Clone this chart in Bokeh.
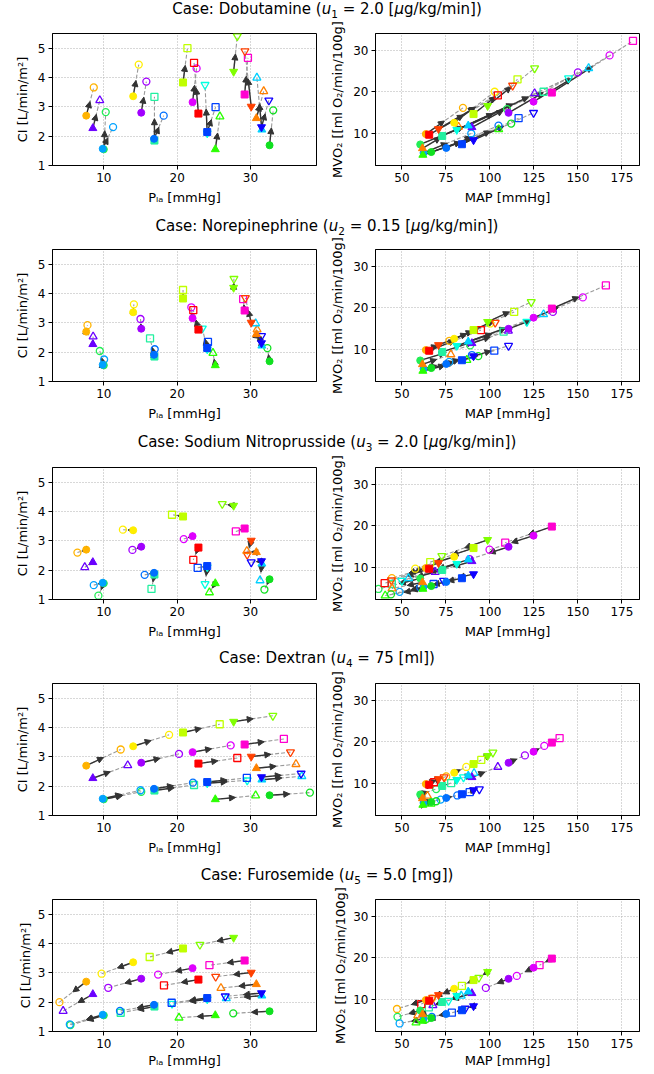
from bokeh.plotting import figure
from bokeh.layouts import column, row
from bokeh.models import Div, Range1d, Arrow, NormalHead, ColumnDataSource
from bokeh.embed import file_html
from bokeh.resources import INLINE

# ---------------- data ----------------
MARKERS = ["circle", "triangle", "circle", "circle", "circle", "circle", "circle",
           "square", "square", "circle", "square", "square", "inverted_triangle",
           "triangle", "inverted_triangle", "square", "inverted_triangle", "triangle",
           "inverted_triangle", "triangle", "circle"]
COLORS = ["#ffb300", "#6a00ff", "#00a2ff", "#22ee55", "#ffee00", "#a100ff", "#0070ff",
          "#22f0a0", "#c0ff00", "#df00ff", "#ff0000", "#0040ff", "#00ffe0",
          "#2aff00", "#80ff00", "#ff00d0", "#ff4000", "#ff8000",
          "#1000ff", "#00d0ff", "#10e020"]

# initial (baseline) state of every virtual patient
PLA0 = [7.6, 8.5, 9.85, 10.0, 14.0, 15.1, 16.85, 16.9, 20.8, 22.1, 22.9, 24.1, 24.1,
        25.2, 27.7, 29.2, 30.1, 30.8, 31.5, 31.55, 32.6]
CI0 = [2.70, 2.27, 1.57, 1.55, 3.36, 2.80, 1.91, 1.85, 3.83, 3.16, 2.77, 2.14, 2.10,
       1.55, 4.20, 3.42, 3.01, 2.61, 2.31, 2.22, 1.69]
MAP0 = [63.6, 89.8, 62.3, 60.4, 79.7, 110.6, 75.2, 72.9, 90.7, 124.8, 65.5, 84.1, 81.2,
        61.9, 98.7, 135.2, 70.8, 61.7, 90.7, 87.7, 66.7]
MVO0 = [9.76, 11.4, 5.2, 7.25, 12.5, 14.9, 6.4, 9.3, 14.6, 17.6, 9.6, 7.3, 10.8,
        4.7, 16.6, 19.8, 11.0, 6.3, 8.3, 11.8, 5.4]

# Dobutamine
DOB_PLA = [8.63, 9.45, 11.26, 10.26, 14.76, 15.8, 18.16, 16.9, 21.4, 22.65, 22.3, 25.24,
           23.8, 25.83, 28.2, 29.65, 29.24, 31.8, 32.5, 30.87, 33.1]
DOB_CI = [3.66, 3.22, 2.31, 2.82, 4.44, 3.86, 2.70, 3.34, 5.0, 4.31, 4.5, 2.99, 3.75,
          2.67, 5.41, 4.67, 4.9, 3.53, 3.22, 3.99, 2.88]
DOB_MAP = [84.7, 125.4, 89.4, 109.7, 102.7, 150.0, 104.9, 130.5, 115.7, 168.0, 104.5,
           116.3, 144.7, 105.0, 125.4, 181.3, 112.9, 82.2, 124.8, 156.1, 112.1]
DOB_MVO = [16.1, 19.6, 9.9, 15.8, 20.0, 24.7, 11.8, 20.0, 23.0, 28.8, 19.1, 13.6, 23.3,
           10.9, 25.7, 32.3, 21.5, 11.5, 14.9, 25.7, 12.3]

# Norepinephrine
NE_PLA = [7.77, 8.54, 10.04, 9.45, 14.1, 15.0, 16.94, 16.3, 20.8, 21.93, 22.2, 24.2,
          23.43, 24.88, 27.74, 29.0, 29.3, 30.9, 31.5, 30.7, 32.3]
NE_CI = [2.92, 2.53, 1.75, 2.04, 3.63, 3.13, 2.10, 2.47, 4.12, 3.53, 3.43, 2.35, 2.81,
         1.97, 4.5, 3.81, 3.85, 2.77, 2.55, 2.98, 2.14]
NE_MAP = [77.0, 110.5, 76.9, 88.8, 100.2, 135.8, 89.8, 107.8, 113.8, 152.8, 94.9, 102.5,
          121.0, 86.9, 123.5, 165.9, 103.0, 77.8, 110.6, 130.5, 93.4]
NE_MVO = [12.0, 14.4, 6.9, 10.9, 16.2, 19.0, 8.55, 14.2, 19.0, 22.5, 14.6, 9.6, 16.6,
          7.35, 21.4, 25.4, 16.4, 8.7, 10.8, 18.4, 8.3]

# Sodium Nitroprusside
SNP_PLA = [6.4, 7.4, 8.63, 9.26, 12.6, 13.9, 15.57, 16.5, 19.3, 20.9, 22.2, 22.8, 23.8,
           24.4, 26.15, 28.0, 29.55, 29.5, 30.1, 31.3, 31.9]
SNP_CI = [2.6, 2.1, 1.49, 1.13, 3.38, 2.69, 1.84, 1.36, 3.89, 3.06, 2.35, 2.08, 1.53,
          1.24, 4.26, 3.32, 2.53, 2.65, 2.27, 1.65, 1.34]
SNP_MAP = [44.3, 68.9, 48.7, 36.7, 57.6, 88.5, 60.4, 44.3, 66.1, 99.8, 40.2, 68.0, 50.0,
           40.5, 72.7, 108.7, 44.0, 44.4, 73.7, 53.8, 43.8]
SNP_MVO = [7.3, 8.8, 4.0, 4.7, 9.6, 11.9, 5.1, 5.9, 11.2, 14.2, 6.1, 5.9, 6.7, 3.1,
           12.7, 15.9, 6.8, 4.8, 6.7, 7.3, 3.4]

# Dextran
DEX_PLA = [12.3, 13.26, 15.0, 15.1, 18.9, 20.25, 22.15, 22.3, 25.8, 27.3, 28.2, 29.5,
           29.55, 30.7, 33.05, 34.55, 35.45, 36.2, 36.9, 37.0, 38.1]
DEX_CI = [3.25, 2.71, 1.86, 1.81, 3.75, 3.1, 2.12, 2.04, 4.11, 3.39, 2.96, 2.28, 2.2,
          1.68, 4.4, 3.61, 3.16, 2.75, 2.43, 2.34, 1.78]
DEX_MAP = [75.2, 104.5, 72.0, 69.5, 86.6, 119.9, 81.5, 78.0, 95.1, 130.9, 68.2, 88.5,
           85.0, 66.5, 101.7, 139.6, 74.0, 64.5, 94.0, 91.0, 69.5]
DEX_MVO = [11.6, 13.9, 6.0, 8.55, 13.9, 16.7, 7.0, 10.0, 15.6, 19.0, 10.2, 7.8, 11.4,
           5.0, 17.4, 20.9, 11.4, 6.9, 8.5, 12.4, 5.6]

# Furosemide
FUR_PLA = [3.95, 4.45, 5.36, 5.45, 9.7, 10.6, 12.2, 12.3, 16.25, 17.4, 18.2, 19.25,
           19.3, 20.25, 23.1, 24.4, 25.25, 25.97, 26.56, 26.7, 27.65]
FUR_CI = [2.0, 1.7, 1.24, 1.22, 2.97, 2.49, 1.70, 1.64, 3.54, 2.94, 2.57, 1.98, 1.95,
          1.47, 3.96, 3.26, 2.87, 2.48, 2.2, 2.13, 1.62]
FUR_MAP = [47.2, 67.6, 48.7, 47.5, 67.0, 97.7, 67.0, 65.3, 84.1, 115.3, 61.0, 78.4,
           76.5, 58.0, 93.75, 128.2, 67.5, 59.0, 86.0, 83.7, 64.0]
FUR_MVO = [7.6, 8.5, 4.1, 5.7, 10.1, 12.7, 5.7, 8.0, 13.2, 15.6, 8.8, 6.7, 9.6, 4.3,
           15.2, 18.2, 10.3, 6.0, 7.7, 10.8, 5.2]

CASE_TITLES = [
    "Case: Dobutamine (<i>u</i><sub>1</sub> = 2.0 [<i>&mu;</i>g/kg/min])",
    "Case: Norepinephrine (<i>u</i><sub>2</sub> = 0.15 [<i>&mu;</i>g/kg/min])",
    "Case: Sodium Nitroprusside (<i>u</i><sub>3</sub> = 2.0 [<i>&mu;</i>g/kg/min])",
    "Case: Dextran (<i>u</i><sub>4</sub> = 75 [ml])",
    "Case: Furosemide (<i>u</i><sub>5</sub> = 5.0 [mg])",
]
CASES = [
    (DOB_PLA, DOB_CI, DOB_MAP, DOB_MVO),
    (NE_PLA, NE_CI, NE_MAP, NE_MVO),
    (SNP_PLA, SNP_CI, SNP_MAP, SNP_MVO),
    (DEX_PLA, DEX_CI, DEX_MAP, DEX_MVO),
    (FUR_PLA, FUR_CI, FUR_MAP, FUR_MVO),
]

LEFT_XTICKS = [10, 20, 30]
LEFT_YTICKS = [1, 2, 3, 4, 5]
RIGHT_XTICKS = [50, 75, 100, 125, 150, 175]
RIGHT_YTICKS = [10, 20, 30]

# drawing order of the patients (which marker lies on top)
ORDER = [0, 1, 3, 2, 4, 5, 7, 6, 8, 9, 10, 12, 11, 13, 14, 15, 16, 17, 19, 18, 20]

# ---------------- style ----------------
FONT = "DejaVu Sans"
ARROW_C = "#333333"
ARROW_FRAC = 0.5
SIZES = {"circle": 7, "square": 7, "triangle": 8, "inverted_triangle": 8}

# layout (the Bokeh page has no body margin): div zone heights and title paddings
DIV_ZONES = [19, 24, 26, 24, 24]
DIV_PADS = [0, 6, 6, 4, 5]
FRAME_W, FRAME_H = 264, 132
TOP_B = 14
TOTAL_W = 654


def style(p, xticks, yticks, xlabel, ylabel, compact):
    p.xaxis.ticker = xticks
    p.yaxis.ticker = yticks
    p.xaxis.axis_label = xlabel
    p.yaxis.axis_label = ylabel
    for ax in p.axis:
        ax.major_label_text_font = FONT
        ax.major_label_text_font_size = "12px"
        ax.major_label_text_color = "black"
        ax.axis_label_text_font = FONT
        ax.axis_label_text_font_size = "13px"
        ax.axis_label_text_font_style = "normal"
        ax.axis_label_text_color = "black"
        ax.minor_tick_line_color = None
        ax.major_tick_in = 0
        ax.major_tick_out = 4
        ax.major_tick_line_color = "black"
        ax.axis_line_color = "black"
        ax.major_label_standoff = 3
        ax.axis_label_standoff = 2 if compact else 5
    p.grid.grid_line_color = "#b0b0b0"
    p.grid.grid_line_dash = "1 2"
    p.grid.grid_line_width = 1
    p.outline_line_color = "black"
    p.outline_line_alpha = 1
    p.outline_line_width = 1


def pick(vals):
    return [vals[i] for i in ORDER]


def panel(x0, y0, x1, y1, xr, yr, xticks, yticks, xlabel, ylabel, bl, br, bb, compact):
    p = figure(width=None, height=None, frame_width=FRAME_W, frame_height=FRAME_H,
               x_range=Range1d(*xr), y_range=Range1d(*yr),
               output_backend="svg", toolbar_location=None,
               min_border_left=bl, min_border_right=br, min_border_top=TOP_B,
               min_border_bottom=bb, background_fill_color="white",
               border_fill_color="white")
    style(p, xticks, yticks, xlabel, ylabel, compact)
    x0, y0, x1, y1 = pick(x0), pick(y0), pick(x1), pick(y1)
    mk, cl = pick(MARKERS), pick(COLORS)
    n = len(x0)
    xs_tip = [x0[i] + ARROW_FRAC * (x1[i] - x0[i]) for i in range(n)]
    ys_tip = [y0[i] + ARROW_FRAC * (y1[i] - y0[i]) for i in range(n)]
    seg = ColumnDataSource(dict(x0=x0, y0=y0, x1=x1, y1=y1, xt=xs_tip, yt=ys_tip))
    p.segment(x0="x0", y0="y0", x1="x1", y1="y1", source=seg, line_color="#9a9a9a",
              line_dash="4 2", line_width=1.1, level="underlay")
    p.add_layout(Arrow(end=NormalHead(size=6, line_color=ARROW_C, fill_color=ARROW_C,
                                      line_width=1),
                       x_start="x0", y_start="y0", x_end="xt", y_end="yt",
                       source=seg, line_color=ARROW_C, line_width=1.4, level="underlay"))
    sizes = [SIZES[m] for m in mk]
    fin = ColumnDataSource(dict(x=x1, y=y1, m=mk, c=cl, s=sizes))
    p.scatter("x", "y", marker="m", size="s", line_color="c", fill_color=None,
              line_width=1.3, source=fin)
    ini = ColumnDataSource(dict(x=x0, y=y0, m=mk, c=cl, s=sizes))
    p.scatter("x", "y", marker="m", size="s", line_color="c", fill_color="c",
              line_width=1, source=ini)
    return p


children = []
for k, (title, (pla, ci, mp, mvo)) in enumerate(zip(CASE_TITLES, CASES)):
    html = ('<div style="padding-top:%dpx;font-family:\'DejaVu Sans\';font-size:15px;'
            'line-height:18px;text-align:center;white-space:nowrap;color:#000;'
            'width:%dpx">' % (DIV_PADS[k], TOTAL_W)
            + title.replace("<sub>", '<sub style="font-size:10.5px;line-height:0">')
            + '</div>')
    children.append(Div(text=html, width=TOTAL_W, height=DIV_ZONES[k],
                        margin=(0, 0, 0, 0)))
    last = (k == 4)
    bb = 42 if last else 46
    left = panel(PLA0, CI0, pla, ci, (3, 39), (1, 5.5), LEFT_XTICKS, LEFT_YTICKS,
                 "Pₗₐ [mmHg]", "CI [L/min/m²]", 52, 9, bb, last)
    right = panel(MAP0, MVO0, mp, mvo, (35, 185), (2.15, 34.1), RIGHT_XTICKS,
                  RIGHT_YTICKS, "MAP [mmHg]", "MVO₂ [[ml O₂/min/100g]", 50, 15, bb, last)
    children.append(row(left, right, spacing=0))

layout = column(*children, spacing=0)
open("out.html", "w").write(file_html(layout, INLINE))
